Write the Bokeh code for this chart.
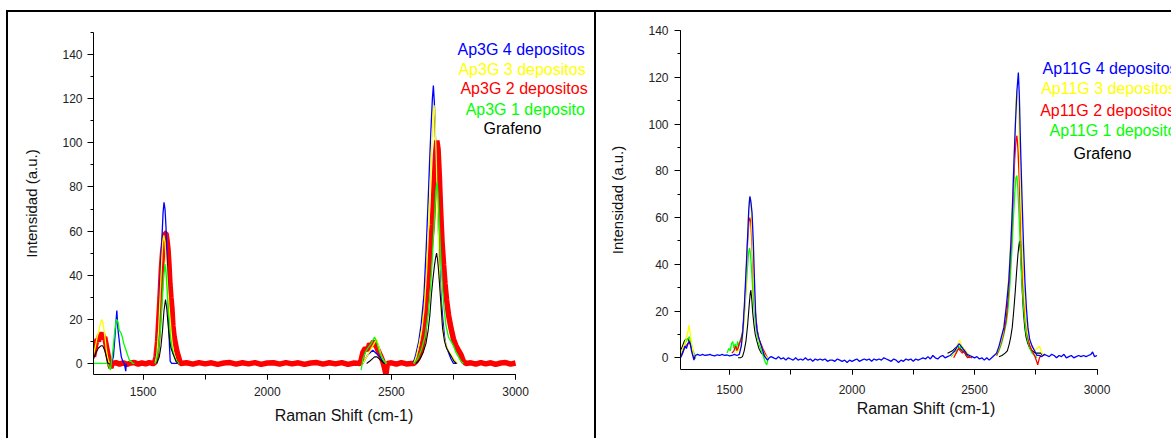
import numpy as np
from bokeh.plotting import figure
from bokeh.models import Range1d, Label, SingleIntervalTicker, Div, Spacer
from bokeh.layouts import row, column
from bokeh.embed import file_html
from bokeh.resources import INLINE

N = np.nan

# ---------------- Left panel: Ap3G ----------------
ap3g_labels = ["Ap3G 4 depositos", "Ap3G 3 depositos", "Ap3G 2 depositos", "Ap3G 1 deposito", "Grafeno"]

ap3g_4_x = [1372, 1380, 1385, 1390, 1394, 1398, 1402, 1407, 1412, 1418, 1424, 1430, 1432, N,
            1548, 1555, 1560, 1565, 1570, 1575, 1580, 1584, 1588, 1592, 1596, 1600, 1603, 1606, 1609, 1615, 1630, 1640, N,
            2385, 2395, 2405, 2415, 2425, 2435, 2445, 2455, 2465, 2475, N,
            2588, 2598, 2610, 2620, 2631, 2640, 2649, 2655, 2660, 2665, 2669, 2673, 2677, 2681, 2685, 2690, 2695, 2700,
            2707, 2714, 2720, 2730, 2740, 2750, 2765]
ap3g_4_y = [0, 3, 10, 18, 24, 16, 12, 7, 3, 1, 0, -3.5, 0, N,
            0, 5, 12, 25, 42, 55, 68, 73, 70, 62, 48, 32, 18, 8, 1, 0, 0, 0, N,
            0, 2, 4, 5, 6, 5, 4, 3, 1, 0, N,
            0, 4, 10, 18, 31, 52, 77, 95, 108, 120, 126, 118, 104, 90, 77, 58, 42, 30,
            20, 12, 8, 5, 2, 0, 0]

ap3g_3_x = [1300, 1308, 1315, 1322, 1328, 1334, 1340, 1346, 1352, 1358, 1364, N,
            1548, 1555, 1562, 1568, 1574, 1579, 1583, 1588, 1593, 1598, 1604, 1610, 1616, 1622, 1630, 1640, N,
            2385, 2400, 2415, 2430, 2440, 2448, 2458, 2470, 2480, N,
            2590, 2600, 2612, 2622, 2632, 2642, 2650, 2657, 2663, 2668, 2672, 2676, 2680, 2684, 2688, 2692, 2697,
            2703, 2710, 2718, 2728, 2740, 2752, 2765]
ap3g_3_y = [4, 8, 12, 15, 18, 20, 17, 12, 6, 2, 0, N,
            0, 4, 15, 30, 45, 55, 58, 55, 46, 36, 26, 18, 10, 5, 2, 0, N,
            0, 3, 6, 9, 11, 8, 4, 1, 0, N,
            0, 3, 9, 15, 25, 42, 62, 82, 100, 112, 117, 110, 95, 78, 62, 45, 31,
            20, 13, 9, 6, 4, 2, 0]

ap3g_2_x = [1300, 1305, 1310, 1315, 1320, 1325, 1330, 1335, 1340, 1345, 1350, 1355, 1360, 1365, 1370, 1375,
            1390, 1405, 1420, 1435, 1450, 1465, 1480, 1495, 1510, 1525, 1540,
            1545, 1552, 1558, 1563, 1568, 1573, 1578, 1583, 1588, 1592, 1596, 1600, 1604, 1608, 1612, 1616, 1620,
            1625, 1630, 1635, 1640, 1645, 1650,
            1675, 1700, 1725, 1750, 1775, 1800, 1825, 1850, 1875, 1900, 1925, 1950, 1975, 2000, 2025, 2050, 2075,
            2100, 2125, 2150, 2175, 2200, 2225, 2250, 2275, 2300, 2325, 2350, 2375,
            2385, 2395, 2405, 2412, 2420, 2428, 2435, 2442, 2450, 2458, 2465, 2472, 2478, 2484,
            2500, 2520, 2540, 2560, 2580,
            2590, 2600, 2610, 2620, 2630, 2638, 2645, 2652, 2658, 2665, 2672, 2678, 2683, 2688, 2693, 2698, 2704,
            2710, 2716, 2722, 2730, 2740, 2750, 2760, 2770, 2780, 2790, 2800,
            2820, 2840, 2860, 2880, 2900, 2920, 2940, 2960, 2980, 3000]
ap3g_2_y = [3, 6, 9, 11, 10, 13, 12, 14, 11, 12, 9, 6, 3, 0, -2, 0,
            0.4, -0.3, 0.3, -0.4, 0.2, 0.4, -0.3, 0.3, -0.2, 0.4, 0,
            0, 3, 10, 20, 30, 42, 50, 55, 59, 59, 56, 52, 45, 36, 30, 25, 17,
            12, 9, 6, 4, 2, 0,
            0.3, -0.3, 0.4, -0.2, 0.3, -0.4, 0.2, 0.4, -0.3, 0.3, -0.2, 0.4, -0.4, 0.2, 0.3, -0.3, 0.4,
            -0.2, 0.3, -0.4, 0.2, 0.4, -0.3, 0.3, -0.2, 0.4, -0.4, 0.2, 0,
            5, 7, 6, 9, 8, 10, 9, 7, 5, 3, 1, -2, -5, 0,
            0.3, -0.3, 0.4, -0.2, 0,
            0, 1, 3, 6, 12, 25, 35, 45, 55, 63, 80, 95, 101, 97, 85, 70, 55,
            45, 36, 29, 22, 16, 11, 8, 6, 4, 1, 0,
            0.3, -0.3, 0.4, -0.2, 0.3, -0.4, 0.2, 0.4, -0.3, 0.2]

ap3g_1_x = [1300, 1330, 1355, 1362, 1368, 1374, 1380, 1386, 1392, 1398, 1404, 1410, 1416, 1422, 1428, 1434,
            1440, 1446, 1452, 1458, 1465, N,
            1550, 1560, 1568, 1575, 1582, 1588, 1593, 1598, 1604, 1610, 1618, 1626, 1635, 1645, N,
            2378, 2385, 2395, 2405, 2418, 2432, 2440, 2450, 2460, 2470, 2480, N,
            2590, 2605, 2620, 2635, 2648, 2658, 2666, 2673, 2679, 2683, 2687, 2692, 2698, 2705, 2712, 2720, 2730,
            2740, 2750, 2760, 2770, 2780, 2790]
ap3g_1_y = [0, 0, 0, -1, -3, 2, 8, 15, 20, 19, 15, 14, 12, 9, 7, 5,
            3, 1, 1, 0, 0, N,
            0, 5, 13, 25, 38, 45, 40, 30, 20, 12, 6, 3, 1, 0, N,
            -3, 2, 5, 7, 9, 12, 10, 6, 3, 1, 0, N,
            0, 2, 6, 12, 22, 35, 50, 65, 78, 82, 78, 65, 50, 35, 25, 17, 12,
            10, 8, 5, 3, 1, 0]

ap3g_0_x = [1300, 1310, 1320, 1330, 1337, 1345, 1352, 1358, 1365, N,
            1555, 1565, 1572, 1578, 1584, 1590, 1595, 1600, 1606, 1612, 1618, 1625, 1632, 1640, N,
            2400, 2412, 2422, 2432, 2442, 2452, 2462, 2472, N,
            2600, 2615, 2628, 2639, 2648, 2655, 2661, 2667, 2673, 2678, 2682, 2686, 2690, 2695, 2700, 2706, 2714,
            2722, 2732, 2742, 2752, 2762]
ap3g_0_y = [2, 5, 7, 8, 8, 6, 3, 0, 0, N,
            0, 3, 8, 15, 24, 29, 25, 18, 11, 7, 5, 3, 1, 0, N,
            0, 1, 2, 3, 3, 2, 1, 0, N,
            0, 2, 5, 9, 15, 22, 31, 38, 44, 48, 50, 47, 42, 34, 26, 16, 10,
            7, 5, 3, 1, 0]

# ---------------- Right panel: Ap11G ----------------
ap11g_labels = ["Ap11G 4 depositos", "Ap11G 3 depositos", "Ap11G 2 depositos", "Ap11G 1 deposito", "Grafeno"]

ap11g_4_x = [1300, 1305, 1312, 1318, 1324, 1330, 1335, 1340, 1345, 1350, 1355, 1360, 1370, 1380, 1390, 1400,
             1410, 1420, 1430, 1440, 1450, 1460, 1470, 1480, 1490, 1500, 1510, 1520, 1530, 1540, 1548, 1555, 1562,
             1568, 1574, 1579, 1583, 1587, 1592, 1597, 1602, 1607, 1612, 1618, 1624, 1630, 1636, 1642, 1648, 1655,
             1662, 1670, 1680, 1690, 1700, 1710, 1720, 1730, 1740, 1750, 1760, 1770, 1780, 1790, 1800, 1810, 1820,
             1830, 1840, 1850, 1860, 1870, 1880, 1890, 1900, 1910, 1920, 1930, 1940, 1950, 1960, 1970, 1980, 1990,
             2000, 2010, 2020, 2030, 2040, 2050, 2060, 2070, 2080, 2090, 2100, 2110, 2120, 2130, 2140, 2150, 2160,
             2170, 2180, 2190, 2200, 2210, 2220, 2230, 2240, 2250, 2260, 2270, 2280, 2290, 2300, 2310, 2320, 2330,
             2340, 2350, 2360, 2370, 2380, 2390, 2400, 2410, 2420, 2430, 2438, 2445, 2452, 2460, 2470, 2480, 2490,
             2500, 2510, 2520, 2530, 2540, 2550, 2560, 2570, 2580, 2590, 2600, 2610, 2620, 2630, 2640, 2648, 2655,
             2661, 2667, 2673, 2679, 2683, 2688, 2694, 2700, 2706, 2712, 2718, 2725, 2735, 2745, 2755, 2765, 2775,
             2785, 2795, 2805, 2815, 2825, 2835, 2845, 2855, 2865, 2875, 2885, 2895, 2905, 2915, 2925, 2935, 2945,
             2955, 2965, 2975, 2982, 2990, 3000]
ap11g_4_y = [0, 1, 3, 5, 4, 6, 7, 6, 3, 1, -1, 1, 1.5, 1, 1.5, 1,
             1.2, 1.5, 1, 0.8, 1.3, 1, 1.5, 1, 1.2, 0.8, 1, 1.5, 1, 1.5, 5, 12, 25,
             38, 52, 64, 69, 67, 62, 50, 33, 18, 12, 9, 7, 5, 3, 1, 0, -1,
             0, 0.5, 0, -0.5, 0.5, -0.5, 0, -1, 0, -0.5, -1, 0, -1, -0.5, -1, 0, -1,
             -0.5, -1.5, -0.5, -1, -0.5, -1, -0.5, -1.5, -1, -1, -1.5, -0.5, -1, -1.5, -1, -2, -1,
             -1.5, -1, -0.5, -1.5, -1, -0.5, -1, -0.5, -1.5, -0.5, -1, -0.5, -1, 0, -0.5, -1, -1.5,
             -0.5, -1, -2, -1, -1.5, -0.5, -1, -0.5, -1.5, -0.5, -1, -0.5, 0, -0.5, 0.5, -0.5, 1,
             0, -0.5, 0.5, 1, 0, 0.5, 1, 2, 3, 5, 6, 5, 4, 3, 1.5, 1, 0.5,
             0, 0.5, -0.5, 0, -1, 0, -1, 0, 1, 2, 5, 9, 13, 22, 33, 48, 65,
             84, 100, 114, 122, 112, 90, 68, 48, 32, 21, 13, 8, 5, 3, 1, 1, 0.5,
             1.5, 1, 0.5, 1.5, 1, 0, 1, 0.5, 1.5, 0, 0.5, 1, 0, 0.5, 1, 0.5, 1,
             0.5, 1, 1.5, 2.5, 0.5, 1]

ap11g_3_x = [1300, 1310, 1318, 1325, 1330, 1335, 1340, 1346, 1352, 1358, 1365, N,
             1525, 1535, 1545, 1553, 1560, 1566, 1571, 1576, 1580, 1584, 1588, 1593, 1598, 1603, 1608, 1614, 1620,
             1628, 1636, 1645, 1655, N,
             2405, 2415, 2425, 2432, 2440, 2448, 2456, 2465, 2475, 2485, N,
             2585, 2595, 2605, 2615, 2625, 2635, 2643, 2650, 2657, 2663, 2668, 2673, 2677, 2682, 2687, 2692, 2698,
             2704, 2710, 2718, 2726, 2735, 2745, 2755, 2765, 2772, 2780]
ap11g_3_y = [2, 4, 6, 9, 11, 14, 10, 6, 2, 0, 1, N,
             2, 3, 4, 8, 16, 28, 42, 58, 67, 69, 64, 50, 35, 22, 15, 10, 7,
             5, 3, 1, 0, N,
             1, 2, 4, 6, 7.5, 5, 4, 3, 1.5, 0.5, N,
             1, 3, 6, 10, 18, 28, 40, 55, 72, 90, 106, 115, 110, 95, 75, 55, 38,
             25, 16, 10, 7, 5, 3, 4, 5, 3, 1]

ap11g_2_x = [1300, 1308, 1315, 1322, 1330, 1336, 1342, 1348, 1355, 1362, N,
             1510, 1518, 1525, 1532, 1540, 1548, 1555, 1562, 1568, 1574, 1579, 1583, 1587, 1592, 1597, 1602, 1607,
             1613, 1620, 1628, 1636, 1645, 1655, N,
             2415, 2425, 2435, 2442, 2450, 2458, 2465, 2472, 2480, 2490, N,
             2590, 2600, 2610, 2620, 2630, 2638, 2645, 2652, 2658, 2664, 2669, 2673, 2677, 2682, 2687, 2692, 2698,
             2704, 2710, 2718, 2726, 2735, 2745, 2752, 2758, 2765, 2772]
ap11g_2_y = [1, 2, 4, 5, 6, 7, 5, 3, 0, 0, N,
             2, 3, 5, 3, 6, 8, 12, 22, 35, 50, 58, 60, 58, 48, 35, 24, 18,
             12, 8, 6, 4, 2, 0, N,
             0, 2, 4, 3, 2, 3, 1, 0, 0.5, 0, N,
             1, 4, 7, 11, 17, 27, 40, 55, 70, 85, 93, 95, 90, 78, 62, 47, 33,
             22, 15, 9, 5, 3, 1, -1, -3, 0, 1]

ap11g_1_x = [1300, 1308, 1315, 1322, 1330, 1336, 1342, 1348, 1355, 1362, N,
             1490, 1497, 1503, 1508, 1513, 1518, 1523, 1528, 1533, 1538, 1545, 1552, 1560, 1567, 1573, 1578, 1582,
             1586, 1591, 1596, 1601, 1607, 1613, 1620, 1627, 1634, 1640, 1646, 1652, 1658, N,
             2405, 2415, 2425, 2435, 2443, 2450, 2458, 2465, 2475, N,
             2590, 2600, 2610, 2620, 2630, 2638, 2645, 2652, 2658, 2664, 2669, 2673, 2677, 2682, 2687, 2692, 2698,
             2704, 2710, 2718, 2726, 2735, 2745, 2755]
ap11g_1_y = [2, 3, 5, 7, 8, 9, 7, 4, 2, 0, N,
             2, 4, 3, 6, 7, 4, 6, 3, 7, 5, 8, 10, 18, 28, 38, 45, 47,
             44, 36, 27, 20, 14, 9, 6, 4, 2, 0, -2, -3, 0, N,
             0.5, 2, 3, 4, 5, 4, 3, 1, 0.5, N,
             1, 3, 6, 10, 15, 22, 32, 45, 58, 70, 77, 78, 72, 60, 47, 35, 25,
             17, 11, 7, 4, 2, 1, 0]

ap11g_0_x = [1300, 1308, 1315, 1322, 1330, 1337, 1344, 1350, 1356, 1362, N,
             1535, 1545, 1553, 1560, 1567, 1574, 1580, 1584, 1587, 1591, 1595, 1600, 1605, 1612, 1620, 1630, 1640,
             1648, N,
             2390, 2400, 2410, 2420, 2430, 2440, 2450, 2460, 2470, 2480, N,
             2600, 2612, 2625, 2634, 2642, 2648, 2654, 2660, 2666, 2672, 2677, 2681, 2684, 2688, 2692, 2695, 2700,
             2705, 2710, 2718, 2726, 2736, 2748, 2760, 2770, 2778, 2785]
ap11g_0_y = [3, 5, 7, 8, 8, 7, 5, 2, 0, 0, N,
             0, 0, 0.5, 3, 7, 14, 22, 27, 29, 25, 19, 14, 10, 7, 4, 2, 1,
             0, N,
             2, 2.5, 3, 4, 5, 4, 3, 2, 1, 0, N,
             0.5, 1, 2, 3, 6, 9, 13, 20, 28, 37, 44, 48, 50, 45, 36, 28, 19,
             13, 9, 6, 4, 3, 2, 2, 2, 1, 1]

colors = ["#0000FF", "#FFFF00", "#FF0000", "#00FF00", "#000000"]
FONT = "Liberation Sans"


def make_fig(w, h, xend, ymax, left, ylab_standoff, ytick_standoff, xtick_standoff, xlab_standoff):
    # the frame runs to the right edge so the labels on the right are not clipped;
    # the axis itself is bounded to 1300-3000
    p = figure(width=w, height=h, x_range=Range1d(1300, xend), y_range=Range1d(-5, ymax),
               output_backend="svg", toolbar_location=None,
               min_border_left=left, min_border_right=0, min_border_top=18, min_border_bottom=64)
    p.xgrid.visible = False
    p.ygrid.visible = False
    p.outline_line_color = None
    p.xaxis.bounds = (1300, 3000)
    p.xaxis.ticker = SingleIntervalTicker(interval=500, num_minor_ticks=2)
    p.yaxis.ticker = SingleIntervalTicker(interval=20, num_minor_ticks=2)
    for ax in (p.xaxis, p.yaxis):
        ax.axis_line_color = "#000000"
        ax.major_tick_line_color = "#000000"
        ax.minor_tick_line_color = "#000000"
        ax.major_tick_in = 0
        ax.minor_tick_in = 0
        ax.major_label_text_font = FONT
        ax.major_label_text_font_size = "12px"
        ax.major_label_text_color = "#222222"
        ax.axis_label_text_font = FONT
        ax.axis_label_text_font_style = "normal"
        ax.axis_label_text_color = "#111111"
    p.xaxis.major_tick_out = 5
    p.xaxis.minor_tick_out = 5
    p.yaxis.major_tick_out = 6
    p.yaxis.minor_tick_out = 3
    p.xaxis.axis_label = "Raman Shift (cm-1)"
    p.yaxis.axis_label = "Intensidad (a.u.)"
    p.xaxis.axis_label_text_font_size = "16px"
    p.yaxis.axis_label_text_font_size = "15px"
    p.yaxis.axis_label_standoff = ylab_standoff
    p.yaxis.major_label_standoff = ytick_standoff
    p.xaxis.major_label_standoff = xtick_standoff
    p.xaxis.axis_label_standoff = xlab_standoff
    return p


# Left figure
p1 = make_fig(586, 424, 3318, 150, 85, 19, 5, 7, 8)
p1.line(ap3g_2_x, ap3g_2_y, line_color=colors[2], line_width=5.5)
p1.line(ap3g_4_x, ap3g_4_y, line_color=colors[0], line_width=1.3)
p1.line(ap3g_3_x, ap3g_3_y, line_color=colors[1], line_width=1.3)
p1.line(ap3g_1_x, ap3g_1_y, line_color=colors[3], line_width=1.3)
p1.line(ap3g_0_x, ap3g_0_y, line_color=colors[4], line_width=1.1)

left_lab_pos = [(2766, 142.2), (2770, 133.1), (2778, 124.5), (2799, 115.0), (2871, 106.4)]
for (lx, ly), txt, c in zip(left_lab_pos, ap3g_labels, colors):
    p1.add_layout(Label(x=lx, y=ly, text=txt, text_color=c, text_font=FONT,
                        text_font_size="16px", text_baseline="middle"))

# Right figure
p2 = make_fig(575, 421, 3304, 140, 84, 19, 6, 10, 3)
p2.line(ap11g_0_x, ap11g_0_y, line_color=colors[4], line_width=1.1)
p2.line(ap11g_1_x, ap11g_1_y, line_color=colors[3], line_width=1.3)
p2.line(ap11g_2_x, ap11g_2_y, line_color=colors[2], line_width=1.3)
p2.line(ap11g_3_x, ap11g_3_y, line_color=colors[1], line_width=1.3)
p2.line(ap11g_4_x, ap11g_4_y, line_color=colors[0], line_width=1.3)

right_lab_pos = [(2778, 123.8), (2772, 115.2), (2768, 105.8), (2806, 97.3), (2904, 87.4)]
for (lx, ly), txt, c in zip(right_lab_pos, ap11g_labels, colors):
    p2.add_layout(Label(x=lx, y=ly, text=txt, text_color=c, text_font=FONT,
                        text_font_size="16px", text_baseline="middle"))


def bar(w, h):
    return Div(text="", width=w, height=h, margin=0, styles={"background-color": "#000000"})


layout = column(
    Spacer(width=1171, height=10, margin=0),
    row(Spacer(width=6, height=428, margin=0),
        column(bar(1165, 2),
               row(bar(2, 426),
                   column(Spacer(width=586, height=2, margin=0), p1, margin=0),
                   bar(2, 426),
                   column(p2, Spacer(width=575, height=5, margin=0), margin=0),
                   margin=0),
               margin=0),
        margin=0),
    margin=0,
)

open("out.html", "w").write(file_html(layout, INLINE))
